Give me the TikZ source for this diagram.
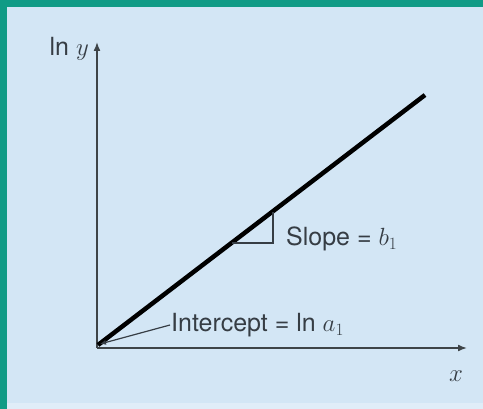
\documentclass[tikz,border=0pt]{standalone}
\usepackage{fontspec}
\setmainfont{TeX Gyre Heros}
\usepackage{tikz}
\usetikzlibrary{arrows.meta,positioning}
\definecolor{panel}{HTML}{D3E6F5}
\definecolor{frame}{HTML}{109B86}
\definecolor{axisgray}{HTML}{3E4448}
\definecolor{inkgray}{HTML}{363D44}

\begin{document}
\begin{tikzpicture}[x=1pt,y=-1pt,font=\fontsize{25}{28}\selectfont,
  axis/.style={draw=axisgray,line width=1.6pt,-{Latex[length=9pt,width=7pt]}},
  fit line/.style={draw=black,line width=4.5pt},
  thinline/.style={draw=inkgray,line width=1.2pt},
  lbl/.style={text=inkgray,inner sep=1pt}]
  % panel and frame
  \useasboundingbox (0,0) rectangle (483,409);
  \fill[panel] (0,0) rectangle (483,409);
  \fill[panel!70!white] (0,403) rectangle (483,409);
  \fill[frame] (0,0) rectangle (483,7);
  \fill[frame] (0,0) rectangle (7,409);
  % axes
  \coordinate (o) at (97,348);
  \coordinate (ytip) at (97,42);
  \coordinate (xtip) at (467,348);
  \draw[axis] (o) -- (ytip);
  \draw[axis] (o) -- (xtip);
  \node[lbl,anchor=east] (lny) at (90,49) {ln $y$};
  \node[lbl] (xl) at (456,376) {$x$};
  % straight line
  \coordinate (p) at (98,345);
  \coordinate (q) at (425,95);
  \draw[fit line] (p) -- (q);
  \coordinate (s1) at (232,243);
  \coordinate (s2) at (273,243);
  \coordinate (s3) at (273,212);
  \draw[thinline] (s1) -- (s2) -- (s3);
  \node[lbl,anchor=west] (slope) at (285,239) {Slope = $b_1$};
  \node[lbl,anchor=west] (icpt) at (170,325) {Intercept = ln $a_1$};
  \draw[thinline,-{Latex[length=6pt,width=5pt]}] (icpt.west) -- (100,344);
\end{tikzpicture}
\end{document}
